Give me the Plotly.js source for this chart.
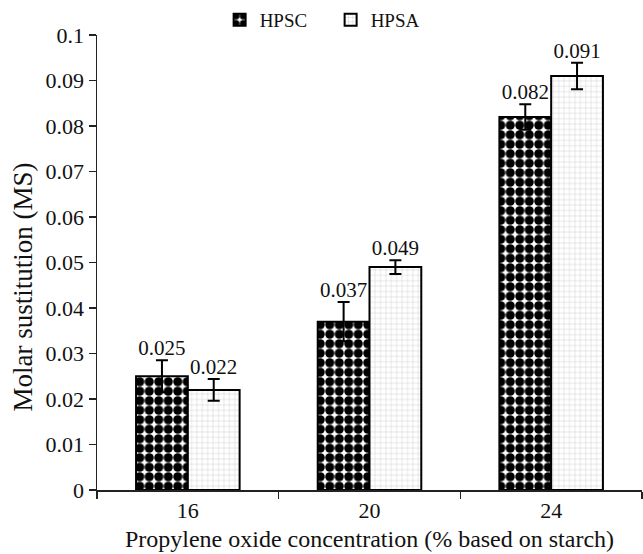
<!DOCTYPE html>
<html>
<head>
<meta charset="utf-8">
<script src="https://cdn.plot.ly/plotly-3.0.1.min.js"></script>
<style>html,body{margin:0;padding:0;background:#fff;}#chart{width:643px;height:554px;}</style>
</head>
<body>
<div id="chart"></div>
<script>
const categories = ['16', '20', '24'];
const hpscValues = [0.025, 0.037, 0.082];
const hpscErrors = [0.0035, 0.0043, 0.0028];
const hpsaValues = [0.022, 0.049, 0.091];
const hpsaErrors = [0.0024, 0.0015, 0.0029];
const hpscLabels = ['0.025', '0.037', '0.082'];
const hpsaLabels = ['0.022', '0.049', '0.091'];

const FONT = 'Liberation Serif';

const barHPSC = {
  type: 'bar', name: 'HPSC', x: categories, y: hpscValues,
  offsetgroup: 'a',
  marker: {
    color: '#ffffff',
    line: {color: '#000', width: 2},
    pattern: {shape: '.', fgcolor: '#000', fgopacity: 1, bgcolor: '#fff', size: 9.5, solidity: 0.72, fillmode: 'overlay'}
  },
  error_y: {type: 'data', array: hpscErrors, visible: true, color: '#000', thickness: 2, width: 6},
  hoverinfo: 'none'
};
const barHPSA = {
  type: 'bar', name: 'HPSA', x: categories, y: hpsaValues,
  offsetgroup: 'b',
  marker: {
    color: '#ffffff',
    line: {color: '#000', width: 2},
    pattern: {shape: '+', fgcolor: '#c8c8c8', fgopacity: 1, bgcolor: '#fff', size: 5.4, solidity: 0.16, fillmode: 'overlay'}
  },
  error_y: {type: 'data', array: hpsaErrors, visible: true, color: '#000', thickness: 2, width: 6},
  hoverinfo: 'none'
};
const txtHPSC = {
  type: 'scatter', mode: 'text', x: categories,
  y: hpscValues.map((v, i) => v + hpscErrors[i]),
  text: hpscLabels, textposition: 'top center', offsetgroup: 'a',
  textfont: {family: FONT, size: 21, color: '#111'},
  showlegend: false, hoverinfo: 'none', cliponaxis: false
};
const txtHPSA = {
  type: 'scatter', mode: 'text', x: categories,
  y: hpsaValues.map((v, i) => v + hpsaErrors[i]),
  text: hpsaLabels, textposition: 'top center', offsetgroup: 'b',
  textfont: {family: FONT, size: 21, color: '#111'},
  showlegend: false, hoverinfo: 'none', cliponaxis: false
};

const layout = {
  width: 643, height: 554,
  margin: {l: 97, r: 1, t: 28, b: 64},
  paper_bgcolor: '#fff', plot_bgcolor: '#fff',
  font: {family: FONT, size: 22, color: '#111'},
  barmode: 'group', bargap: 0.43, bargroupgap: 0,
  scattermode: 'group', scattergap: 0.43,
  showlegend: true,
  legend: {orientation: 'h', x: 0.225, xanchor: 'left', y: 1.075, yanchor: 'top',
           font: {family: FONT, size: 19, color: '#111'}, bgcolor: 'rgba(0,0,0,0)',
           itemwidth: 30, entrywidth: 66, tracegroupgap: 0},
  xaxis: {
    type: 'category', range: [-0.5, 2.5],
    showline: true, linecolor: '#222', linewidth: 1.5,
    ticks: 'outside', tickson: 'boundaries', ticklen: 7, tickcolor: '#222', tickwidth: 1.5,
    showgrid: false, zeroline: false,
    tickfont: {family: FONT, size: 22, color: '#111'},
    title: {text: 'Propylene oxide concentration (% based on starch)', font: {family: FONT, size: 24, color: '#111'}, standoff: 8}
  },
  yaxis: {
    range: [0, 0.1], dtick: 0.01, tick0: 0,
    showline: true, linecolor: '#222', linewidth: 1.5,
    ticks: 'outside', ticklen: 7, tickcolor: '#222', tickwidth: 1.5,
    showgrid: false, zeroline: false,
    tickfont: {family: FONT, size: 22, color: '#111'}
  },
  annotations: [{
    text: 'Molar sustitution (MS)', textangle: -90, showarrow: false,
    xref: 'paper', yref: 'paper', x: -0.135, y: 0.446, xanchor: 'center', yanchor: 'middle',
    font: {family: FONT, size: 27, color: '#111'}
  }]
};

Plotly.newPlot('chart', [barHPSC, barHPSA, txtHPSC, txtHPSA], layout, {displayModeBar: false, staticPlot: true});
</script>
</body>
</html>
